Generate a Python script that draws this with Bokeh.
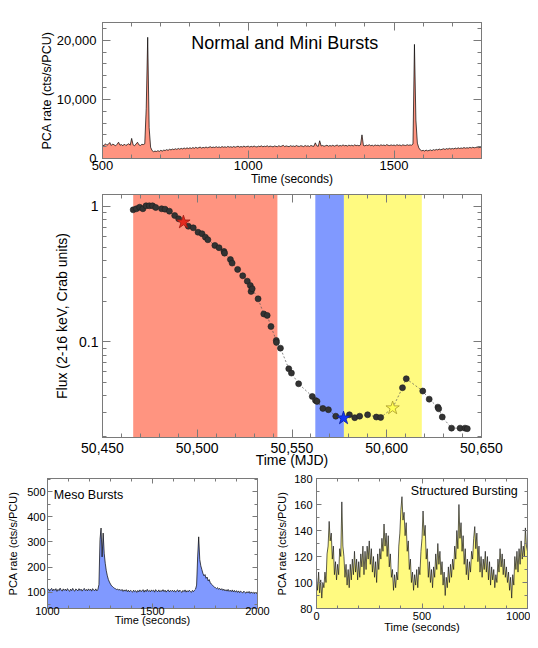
from bokeh.plotting import figure
from bokeh.layouts import column, row
from bokeh.models import (Range1d, LinearAxis, LogAxis, FixedTicker,
                          NumeralTickFormatter, BoxAnnotation, Label)
from bokeh.embed import file_html
from bokeh.resources import INLINE

FONT = "Liberation Sans"
AXC = "#7a7a7a"

# ---------------- data ----------------
# Top panel: normal and mini bursts (PCA rate, 5 s bins)
top_t = list(range(500, 1805, 5))
top_rate = [
    2350, 2150, 2500, 2250, 2400, 2700, 2200, 2450, 2300, 2150,
    2400, 2750, 2250, 2350, 2150, 2450, 2200, 2350, 2500, 2250,
    3400, 2300, 2150, 2450, 2750, 2300, 2200, 2400, 2350, 2500,
    8500, 20500, 5200, 1900, 1350, 1150, 1250, 1180, 1320, 1200,
    1380, 1250, 1420, 1350, 1500, 1380, 1560, 1450, 1600, 1500,
    1650, 1540, 1700, 1580, 1720, 1620, 1780, 1650, 1800, 1680,
    1820, 1700, 1850, 1720, 1900, 1750, 1840, 1930, 1760, 1880,
    1800, 1950, 1820, 1900, 1990, 1840, 1930, 1860, 2000, 1870,
    1960, 1850, 2020, 1900, 1980, 1880, 2050, 1920, 1990, 1890,
    2040, 1910, 2000, 2080, 1930, 2020, 1950, 2100, 1960, 2030,
    2080, 1940, 2060, 1970, 2110, 2000, 1950, 2090, 2010, 2140,
    1980, 2080, 2020, 2150, 1990, 2100, 2040, 1970, 2120, 2050,
    2000, 2160, 2030, 2100, 2220, 2010, 2130, 2060, 2000, 2170,
    2050, 2120, 2020, 2190, 2080, 2040, 2160, 2100, 2010, 2200,
    2070, 2150, 2030, 2210, 2100, 2060, 2650, 2150, 2050, 3000,
    2120, 2200, 2070, 2160, 2250, 2080, 2190, 2110, 2240, 2090,
    2180, 2280, 2100, 2200, 2130, 2300, 2150, 2220, 2100, 2260,
    2160, 2240, 2120, 2310, 2180, 2230, 2140, 2290, 4000, 2200,
    2140, 2270, 2190, 2330, 2160, 2250, 2120, 2300, 2200, 2260,
    2150, 2320, 2210, 2280, 2170, 2350, 2230, 2190, 2300, 2210,
    2280, 2170, 2340, 2220, 2290, 2160, 2310, 2240, 2200, 2330,
    2230, 2300, 2250, 2450, 19300, 6500, 2600, 1800, 1450, 1300,
    1380, 1260, 1420, 1300, 1360, 1450, 1320, 1500, 1400, 1540,
    1450, 1600, 1480, 1560, 1650, 1520, 1680, 1580, 1720, 1600,
    1700, 1620, 1760, 1660, 1800, 1690, 1780, 1720, 1850, 1740,
    1820, 1760, 1880, 1790, 1900, 1810, 1860, 1940, 1830, 1900,
    1870]

# Middle panel: outburst light curve (MJD, flux in Crab units)
mjd_pts = [
    50466.2, 50467.9, 50469.6, 50471.3, 50473.0, 50474.7, 50476.4, 50478.1, 50481.2, 50483.0,
    50485.3, 50488.1, 50490.2, 50495.3, 50497.9, 50500.4, 50502.5, 50504.3, 50505.6, 50509.3,
    50511.5, 50514.1, 50514.4, 50517.5, 50518.4, 50521.3, 50524.0, 50526.4, 50528.0, 50528.4,
    50529.0, 50532.1, 50535.1, 50536.9, 50538.9, 50541.7, 50541.8, 50543.9, 50548.3, 50549.7,
    50553.5, 50560.7, 50562.4, 50563.2, 50566.3, 50569.2, 50573.1, 50580.3, 50583.1, 50585.7,
    50589.9, 50594.5, 50596.8, 50608.3, 50610.3, 50619.0, 50622.4, 50627.0, 50627.4, 50629.3,
    50634.2, 50638.7, 50641.3, 50642.5]
flux_pts = [
    0.945, 0.962, 0.988, 0.962, 1.012, 1.012, 1.012, 0.983, 0.962, 0.955,
    0.923, 0.858, 0.811, 0.715, 0.696, 0.646, 0.629, 0.593, 0.568, 0.516,
    0.496, 0.466, 0.452, 0.406, 0.382, 0.343, 0.308, 0.281, 0.261, 0.236,
    0.247, 0.208, 0.161, 0.157, 0.130, 0.1026, 0.0992, 0.090, 0.0634, 0.0589,
    0.0491, 0.0396, 0.0370, 0.0364, 0.0323, 0.0316, 0.0283, 0.0290, 0.0276, 0.0283,
    0.0290, 0.0279, 0.0277, 0.0459, 0.0535, 0.0434, 0.0378, 0.0330, 0.0321, 0.0279,
    0.0231, 0.0231, 0.0231, 0.0229]
star_mjd = [50492.7, 50577.2, 50603.1]
star_flux = [0.766, 0.0274, 0.0325]
star_fill = ["#E52A1E", "#1436F5", "#FFFF55"]
star_line = ["#A01810", "#0A1E9A", "#A8982A"]
# shaded intervals (MJD): normal, meso, structured
band_start = [50466.2, 50562.3, 50577.4]
band_end = [50542.3, 50577.4, 50618.5]
band_color = ["#FF9480", "#8099FF", "#FFFA80"]

# Bottom-left: meso bursts (5 s bins)
meso_t = list(range(1000, 2005, 5))
meso_rate = [
    108, 113, 104, 111, 115, 105, 112, 107, 114, 103,
    111, 106, 116, 108, 104, 113, 107, 112, 105, 114,
    108, 103, 112, 106, 115, 107, 104, 113, 109, 105,
    114, 107, 112, 104, 110, 115, 106, 111, 105, 113,
    107, 112, 104, 114, 108, 106, 113, 105, 111, 130,
    310, 355, 240, 335, 255, 215, 185, 165, 150, 140,
    132, 125, 122, 118, 115, 113, 110, 112, 108, 111,
    106, 111, 103, 109, 104, 110, 102, 108, 101, 107,
    104, 100, 108, 102, 106, 99, 107, 101, 109, 102,
    105, 110, 100, 108, 102, 111, 103, 107, 101, 109,
    104, 108, 100, 110, 104, 102, 109, 101, 107, 103,
    110, 102, 108, 100, 106, 109, 101, 107, 103, 108,
    102, 107, 100, 106, 109, 101, 108, 103, 99, 107,
    102, 109, 100, 106, 101, 108, 103, 99, 107, 102,
    108, 112, 128, 240, 320, 230, 205, 190, 175, 165,
    170, 155, 160, 145, 150, 138, 132, 128, 124, 120,
    118, 114, 118, 111, 115, 109, 114, 107, 112, 105,
    110, 104, 111, 103, 108, 102, 109, 101, 107, 100,
    106, 99, 105, 98, 104, 100, 97, 104, 99, 96,
    102, 97, 103, 95, 101, 96, 100, 94, 99, 95,
    94]

# Bottom-right: structured bursting (5 s bins)
struct_t = list(range(0, 1005, 5))
struct_rate = [
    104, 94, 108, 92, 102, 88, 100, 96, 108, 100,
    122, 128, 147, 132, 138, 118, 128, 106, 116, 102,
    114, 106, 126, 120, 162, 128, 120, 104, 114, 98,
    110, 96, 114, 102, 118, 106, 124, 108, 118, 102,
    116, 104, 122, 112, 128, 106, 124, 110, 128, 118,
    132, 114, 126, 108, 120, 104, 116, 100, 122, 110,
    126, 118, 134, 124, 145, 128, 138, 120, 136, 112,
    122, 104, 110, 94, 106, 96, 108, 102, 128, 138,
    156, 166, 148, 154, 136, 146, 124, 132, 110, 118,
    100, 108, 94, 106, 98, 110, 96, 112, 106, 124,
    134, 155, 136, 144, 118, 126, 104, 116, 100, 110,
    96, 112, 104, 122, 110, 130, 114, 124, 106, 116,
    98, 108, 90, 104, 96, 112, 100, 114, 104, 118,
    110, 128, 118, 140, 126, 160, 134, 146, 124, 136,
    114, 126, 106, 118, 102, 116, 108, 124, 118, 134,
    143, 126, 138, 116, 128, 108, 120, 104, 118, 110,
    124, 108, 120, 102, 116, 98, 112, 102, 110, 96,
    106, 100, 118, 108, 126, 112, 122, 106, 118, 104,
    112, 100, 108, 94, 104, 88, 106, 98, 120, 110,
    124, 108, 126, 114, 132, 118, 128, 120, 142, 128,
    124]

# tick positions
top_xt, top_xm = [500, 1000, 1500], list(range(500, 1801, 100))
top_yt, top_ym = [0, 10000, 20000], list(range(0, 23001, 2000))
mid_xt, mid_xm = [50450, 50500, 50550, 50600, 50650], list(range(50450, 50651, 10))
mid_yt = [0.1, 1]
mid_ym = [0.02, 0.03, 0.04, 0.05, 0.06, 0.07, 0.08, 0.09,
          0.2, 0.3, 0.4, 0.5, 0.6, 0.7, 0.8, 0.9]
bl_xt, bl_xm = [1000, 1500, 2000], list(range(1000, 2001, 100))
bl_yt, bl_ym = [100, 200, 300, 400, 500], list(range(50, 551, 50))
br_xt, br_xm = [0, 500, 1000], list(range(0, 1001, 100))
br_yt, br_ym = [80, 100, 120, 140, 160, 180], list(range(80, 181, 10))


def make_fig(w, h, xr, yr, b, y_type="linear"):
    p = figure(width=w, height=h, x_range=Range1d(*xr), y_range=Range1d(*yr),
               y_axis_type=y_type, output_backend="svg", toolbar_location=None,
               min_border_left=b[0], min_border_right=b[1],
               min_border_top=b[2], min_border_bottom=b[3])
    p.grid.visible = False
    p.outline_line_color = AXC
    p.border_fill_color = "white"
    p.background_fill_color = "white"
    return p


def style(ax, ticks, minor, maj, mnr, tick_px, standoff,
          label=None, label_px=None, label_standoff=0, fmt=None, show=True):
    ax.ticker = FixedTicker(ticks=ticks, minor_ticks=minor)
    ax.axis_line_color = AXC
    ax.major_tick_line_color = AXC
    ax.minor_tick_line_color = AXC
    ax.major_tick_in = maj
    ax.major_tick_out = 0
    ax.minor_tick_in = mnr
    ax.minor_tick_out = 0
    ax.major_label_text_font = FONT
    ax.major_label_text_color = "black"
    if show:
        ax.major_label_text_font_size = f"{tick_px}px"
        ax.major_label_standoff = standoff
    else:
        ax.major_label_text_font_size = "0px"
        ax.major_label_text_alpha = 0
        ax.major_label_standoff = 0
    if fmt is not None:
        ax.formatter = fmt
    if label is not None:
        ax.axis_label = label
        ax.axis_label_text_font = FONT
        ax.axis_label_text_font_style = "normal"
        ax.axis_label_text_font_size = f"{label_px}px"
        ax.axis_label_text_color = "black"
        ax.axis_label_standoff = label_standoff


def mirror(p, xt, xm, yt, ym, maj, mnr, log_y=False):
    top_ax = LinearAxis()
    style(top_ax, xt, xm, maj, mnr, 0, 0, show=False)
    p.add_layout(top_ax, "above")
    right_ax = LogAxis() if log_y else LinearAxis()
    style(right_ax, yt, ym, maj, mnr, 0, 0, show=False)
    p.add_layout(right_ax, "right")


# ---------------- top panel ----------------
top = make_fig(530, 190, (500, 1800), (0, 23000), (102, 49, 22, 32))
top.varea(x=top_t, y1=0, y2=top_rate, fill_color="#FF9480")
top.line(top_t, top_rate, line_color="black", line_width=0.7)
style(top.xaxis[0], top_xt, top_xm, 8, 4, 13, 2, "Time (seconds)", 12, -1)
style(top.yaxis[0], top_yt, top_ym, 8, 4, 13, 6, "PCA rate (cts/s/PCU)", 12.5, 0,
      fmt=NumeralTickFormatter(format="0,0"))
mirror(top, top_xt, top_xm, top_yt, top_ym, 8, 4)
top.add_layout(Label(x=1125, y=19600, text="Normal and Mini Bursts",
                     text_font=FONT, text_font_size="18px", text_align="center",
                     text_baseline="middle", text_color="black"))

# ---------------- middle panel ----------------
mid = make_fig(530, 281, (50450, 50650), (0.0197, 1.226), (94, 47, 4, 34), y_type="log")
for s, e, c in zip(band_start, band_end, band_color):
    mid.add_layout(BoxAnnotation(left=s, right=e, fill_color=c, fill_alpha=1.0,
                                 line_alpha=0, level="underlay"))
line_pairs = sorted(zip(mjd_pts + star_mjd, flux_pts + star_flux))
mid.line([a for a, _ in line_pairs], [b for _, b in line_pairs],
         line_color="#555555", line_width=0.7, line_dash="2 2")
mid.scatter(mjd_pts, flux_pts, size=6, fill_color="#333333", line_color="#1e1e1e",
            line_width=0.6)
mid.scatter(star_mjd, star_flux, marker="star", size=14, fill_color=star_fill,
            line_color=star_line, line_width=0.8)
style(mid.xaxis[0], mid_xt, mid_xm, 8, 4, 14, 5, "Time (MJD)", 14, -4,
      fmt=NumeralTickFormatter(format="0,0"))
style(mid.yaxis[0], mid_yt, mid_ym, 8, 4, 14, 4, "Flux (2-16 keV, Crab units)", 14, 6,
      fmt=NumeralTickFormatter(format="0.[0]"))
mirror(mid, mid_xt, mid_xm, mid_yt, mid_ym, 8, 4, log_y=True)

# ---------------- bottom-left panel ----------------
bl = make_fig(270, 165, (1000, 2000), (35, 552), (47, 13, 4, 28))
bl.varea(x=meso_t, y1=0, y2=meso_rate, fill_color="#8099FF")
bl.line(meso_t, meso_rate, line_color="black", line_width=0.7)
style(bl.xaxis[0], bl_xt, bl_xm, 5, 3, 11, -2, "Time (seconds)", 11, -4)
style(bl.yaxis[0], bl_yt, bl_ym, 5, 3, 11, 2, "PCA rate (cts/s/PCU)", 11, 5)
mirror(bl, bl_xt, bl_xm, bl_yt, bl_ym, 5, 3)
bl.add_layout(Label(x=1030, y=487, text="Meso Bursts", text_font=FONT,
                    text_font_size="12.5px", text_align="left",
                    text_baseline="middle", text_color="black"))

# ---------------- bottom-right panel ----------------
br = make_fig(260, 165, (0, 1000), (80, 180), (46, 3, 7, 28))
br.varea(x=struct_t, y1=0, y2=struct_rate, fill_color="#FFFA80")
br.line(struct_t, struct_rate, line_color="#1a1a1a", line_width=0.7)
style(br.xaxis[0], br_xt, br_xm, 5, 3, 11, 3, "Time (seconds)", 11, -2)
style(br.yaxis[0], br_yt, br_ym, 5, 3, 11, 4, "PCA rate (cts/s/PCU)", 11, 3)
mirror(br, br_xt, br_xm, br_yt, br_ym, 5, 3)
br.add_layout(Label(x=954, y=170.4, text="Structured Bursting", text_font=FONT,
                    text_font_size="12.5px", text_align="right",
                    text_baseline="middle", text_color="black"))

layout = column(top, mid, row(bl, br))
open("out.html", "w").write(file_html(layout, INLINE))
